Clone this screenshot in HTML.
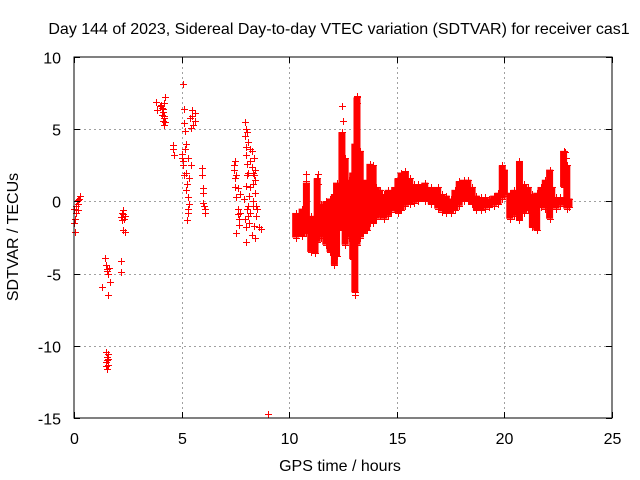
<!DOCTYPE html>
<html><head><meta charset="utf-8"><style>
html,body{margin:0;padding:0;background:#fff;}
svg{display:block;font-family:"Liberation Sans",sans-serif;}
</style></head><body>
<svg id="chart" width="640" height="480" viewBox="0 0 640 480">
<text x="339" y="34" font-size="16" text-anchor="middle">Day 144 of 2023, Sidereal Day-to-day VTEC variation (SDTVAR) for receiver cas1</text>
<g id="grid"></g>
<g id="marks"></g>
<rect x="74" y="57" width="538" height="361" fill="none" stroke="#000" stroke-width="1"/>
<g id="axes"></g>
<text x="340" y="471" font-size="16" text-anchor="middle">GPS time / hours</text>
<text x="18" y="237" font-size="16" text-anchor="middle" transform="rotate(-90 18 237)">SDTVAR / TECUs</text>
</svg>
<script>
const xTicks = [0, 5, 10, 15, 20, 25];
const yTicks = [10, 5, 0, -5, -10, -15];
const ptT = [0.0,0.05,0.1,0.15,0.2,0.25,0.3,0.2,0.0,0.1,0.05,0.2,
1.3,1.45,1.5,1.55,1.6,1.62,1.65,1.6,1.5,1.55,1.5,1.6,1.55,1.5,1.6,1.52,1.58,1.55,
2.2,2.25,2.3,2.35,2.3,2.35,2.25,2.2,2.2,2.28,2.32,
3.8,3.85,4.0,4.1,4.1,4.15,4.2,4.2,4.25,4.15,4.2,4.05,4.12,4.18,4.22,4.6,4.6,4.65,
5.05,5.0,5.05,5.1,5.1,5.15,5.2,5.2,5.25,5.3,5.3,5.25,5.35,5.4,5.45,5.5,5.6,5.45,5.35,5.3,5.15,5.0,5.05,5.1,5.2,5.3,5.5,5.55,5.6,
5.95,5.95,6.0,6.05,6.1,6.0,6.1,6.0,
7.45,7.5,7.55,7.6,7.6,7.65,7.55,7.5,7.7,7.95,8.0,8.0,8.05,8.0,8.05,8.0,8.1,8.2,8.25,8.3,8.3,8.35,8.4,8.15,8.2,8.35,8.4,8.6,8.7,7.9,7.95,8.1,8.25,8.45,
7.45,7.5,7.55,7.6,7.65,7.7,7.95,8.0,8.05,8.1,8.15,8.2,8.25,8.3,8.35,8.4,8.45,8.0,8.05,8.1,8.2,8.3,8.4,8.5,
9.0,10.78,10.8,11.33,11.35,12.47,12.5,13.14,13.16,13.05,22.8,22.85];
const ptV = [-0.5,-2.1,-0.3,0.0,-0.6,0.2,0.4,-0.2,-1.5,-0.8,-1.2,0.1,
-5.9,-3.9,-4.4,-4.7,-5.0,-4.6,-5.6,-6.5,-10.4,-10.8,-11.1,-11.3,-11.6,-11.4,-10.6,-11.0,-10.9,-4.8,
-1.1,-0.8,-0.6,-1.0,-2.0,-2.1,-1.3,-4.1,-4.9,-0.9,-1.2,
6.9,6.3,6.6,6.5,6.0,5.6,5.3,6.8,7.2,6.2,5.8,6.7,6.4,5.9,5.5,3.9,3.6,3.2,
8.1,3.3,2.8,6.4,5.4,4.9,4.0,2.0,1.2,0.3,-0.8,-1.3,-0.2,5.8,5.1,6.3,5.6,2.5,1.6,3.0,3.6,3.0,2.5,1.8,0.8,-0.5,5.9,5.3,6.1,
2.3,1.8,0.6,-0.3,-0.5,0.9,-0.8,-0.1,
2.2,2.8,1.8,0.9,-0.5,-1.6,-2.2,1.0,-0.8,5.5,5.0,3.8,2.6,1.1,-0.5,-2.8,4.1,3.6,2.4,1.2,-0.3,-1.7,-2.5,0.4,2.8,1.8,0.6,-1.8,-1.9,0.2,-1.2,-1.0,-2.3,-0.3,
2.5,1.6,0.3,-0.9,-1.2,0.5,4.5,3.2,1.8,2.0,-1.5,1.0,3.5,0.0,3.0,2.2,-1.0,-1.8,4.8,-0.3,-0.8,2.0,1.5,-0.5,
-14.7,1.9,1.4,1.9,1.2,6.6,5.6,7.3,6.8,-6.5,3.4,3.0];
const bandT = [10.3,10.6,10.8,11.0,11.2,11.3,11.5,11.7,11.9,12.1,12.2,12.45,12.6,12.8,12.95,13.05,13.15,13.3,13.45,13.6,13.75,13.9,14.05,14.2,14.4,14.6,14.75,14.9,15.05,15.2,15.4,15.6,15.8,16.0,16.3,16.6,16.9,17.1,17.3,17.5,17.7,17.9,18.1,18.3,18.5,18.7,18.9,19.1,19.3,19.5,19.7,19.9,20.0,20.25,20.45,20.7,20.9,21.1,21.3,21.5,21.7,21.9,22.1,22.2,22.4,22.6,22.75,22.9,23.0];
const bandLo = [-2.5,-2.4,-2.2,-3.5,-3.6,-2.8,-2.5,-3.0,-3.5,-4.4,-3.8,-2.0,-3.0,-2.5,-4.0,-6.3,-3.0,-2.5,-2.2,-2.0,-1.5,-1.5,-1.2,-1.0,-1.2,-1.0,-0.7,-0.5,-0.8,-0.6,-0.3,-0.2,-0.1,0.0,0.0,-0.2,-0.5,-0.7,-0.8,-0.8,-0.6,-0.3,0.0,0.0,-0.2,-0.6,-0.6,-0.5,-0.4,-0.3,-0.2,0.2,0.4,-1.2,-1.0,-1.3,-0.8,-0.6,-1.8,-2.0,-0.4,-0.5,-1.2,-0.3,-0.5,-0.3,1.0,-0.5,-0.4];
const bandHi = [-0.8,-0.5,1.3,-1.0,-1.8,1.6,-0.2,0.0,0.2,0.5,1.3,4.8,3.0,1.5,2.0,4.0,7.2,3.5,0.5,1.5,2.6,2.5,1.0,0.8,0.5,0.8,0.5,1.0,1.6,2.0,2.1,1.6,1.2,1.2,1.3,1.0,1.0,0.5,0.4,0.2,0.8,1.4,1.5,1.5,1.0,0.4,0.3,0.3,0.2,0.4,0.6,2.5,2.2,0.6,0.8,2.8,1.2,1.0,0.5,0.6,1.0,1.5,2.2,1.0,0.3,0.3,3.5,2.5,0.2];

const NS='http://www.w3.org/2000/svg';
const X0=74,X1=612,Y0=57,Y1=418;
function xs(v){return X0+(v-0)/25*(X1-X0);}
function ys(v){return Y0+(10-v)/25*(Y1-Y0);}
function mk(tag,attrs,parent){const e=document.createElementNS(NS,tag);for(const k in attrs)e.setAttribute(k,attrs[k]);parent.appendChild(e);return e;}
const grid=document.getElementById('grid'),axes=document.getElementById('axes'),marks=document.getElementById('marks');
xTicks.forEach(t=>{
  const x=Math.round(xs(t))+0.5;
  if(t>0&&t<25){const g=mk('line',{x1:x,y1:Y0,x2:x,y2:Y1,stroke:'#a0a0a0','stroke-dasharray':'2,3'},grid);
  
  }
  mk('line',{x1:x,y1:Y1,x2:x,y2:Y1-6,stroke:'#000'},axes);
  mk('line',{x1:x,y1:Y0,x2:x,y2:Y0+6,stroke:'#000'},axes);
  const l=mk('text',{x:x,y:444,'font-size':16,'text-anchor':'middle'},axes);l.textContent=t;
  
  
});
yTicks.forEach(t=>{
  const y=Math.round(ys(t))+0.5;
  if(t<10&&t>-15){const g=mk('line',{x1:X0,y1:y,x2:X1,y2:y,stroke:'#a0a0a0','stroke-dasharray':'2,3'},grid);
  
  }
  mk('line',{x1:X0,y1:y,x2:X0+6,y2:y,stroke:'#000'},axes);
  mk('line',{x1:X1,y1:y,x2:X1-6,y2:y,stroke:'#000'},axes);
  const l=mk('text',{x:61,y:y+6,'font-size':16,'text-anchor':'end'},axes);l.textContent=t;
  
  
});
function plus(t,v){
  const x=Math.round(xs(t))+0.5,y=Math.round(ys(v))+0.5;
  const p=mk('path',{d:`M${x-3.5},${y}H${x+3.5}M${x},${y-3.5}V${y+3.5}`,stroke:'#f00','stroke-width':1,fill:'none'},marks);
  
  
}
bandT.forEach((t,i)=>{
  const x=xs(t),y1=ys(bandHi[i]),y2=ys(bandLo[i]);
  const r=mk('rect',{x:x-3.5,y:y1,width:7,height:Math.max(1,y2-y1),fill:'#f00'},marks);
  
  
  plus(t,bandLo[i]);plus(t,bandHi[i]);
});
ptT.forEach((t,i)=>plus(t,ptV[i]));
</script>
</body></html>
